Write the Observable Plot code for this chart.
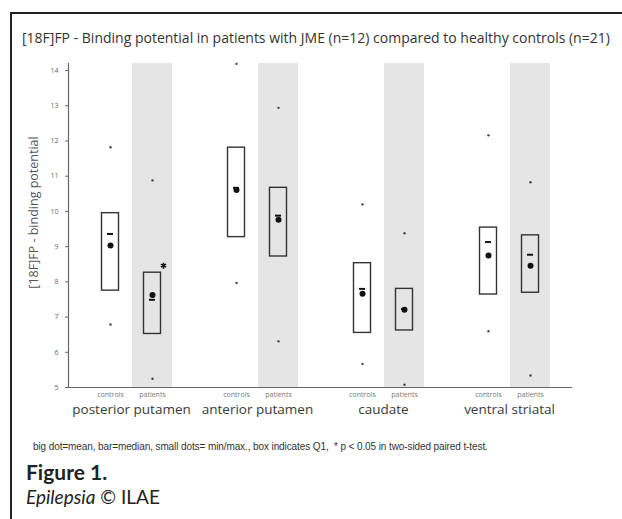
<!DOCTYPE html>
<html>
<head>
<meta charset="utf-8">
<script src="https://cdn.jsdelivr.net/npm/d3@7"></script>
<script src="https://cdn.jsdelivr.net/npm/@observablehq/plot@0.6"></script>
<style>
  html, body { margin: 0; padding: 0; background: #fff; width: 622px; height: 519px; overflow: hidden; }
  #wrap { position: relative; width: 622px; height: 519px; }
  #frame { position: absolute; left: 10px; top: 12px; width: 640px; height: 520px; border-left: 2px solid #222; border-top: 2px solid #222; }
  #title { position: absolute; left: 22px; top: 31px; font: 14px/1 "Open Sans", sans-serif; color: #333; white-space: nowrap; }
  #chart { position: absolute; left: 0; top: 0; }
  #note { position: absolute; left: 33px; top: 442px; font: 10px/1 "Liberation Sans", Arial, sans-serif; color: #333; white-space: nowrap; letter-spacing: -0.1px; }
  #fig { position: absolute; left: 26px; top: 461px; font: bold 21px/1 Lato, sans-serif; color: #222; }
  #journal { position: absolute; left: 26px; top: 487px; font: 19px/1 Lato, sans-serif; color: #222; }
</style>
</head>
<body>
<div id="wrap">
  <div id="frame"></div>
  <div id="title">[18F]FP - Binding potential in patients with JME (n=12) compared to healthy controls (n=21)</div>
  <div id="chart"></div>
  <div id="note">big dot=mean, bar=median, small dots= min/max., box indicates Q1, &nbsp;* p &lt; 0.05 in two-sided paired t-test.</div>
  <div id="fig">Figure 1.</div>
  <div id="journal"><i>Epilepsia</i> © ILAE</div>
</div>
<script>
// ---- data ----
const regions = ["posterior putamen", "anterior putamen", "caudate", "ventral striatal"];
const groups = ["controls", "patients"];
const yTicks = [5, 6, 7, 8, 9, 10, 11, 12, 13, 14];
const yLabel = "[18F]FP - binding potential";

const controlsMean   = [9.03, 10.61, 7.66, 8.75];
const controlsMedian = [9.36, 10.67, 7.80, 9.13];
const controlsBoxLo  = [7.75, 9.27, 6.55, 7.64];
const controlsBoxHi  = [9.95, 11.81, 8.53, 9.54];
const controlsMin    = [6.79, 7.97, 5.67, 6.60];
const controlsMax    = [11.82, 14.19, 10.20, 12.16];

const patientsMean   = [7.63, 9.76, 7.21, 8.46];
const patientsMedian = [7.49, 9.88, 7.23, 8.77];
const patientsBoxLo  = [6.52, 8.72, 6.62, 7.69];
const patientsBoxHi  = [8.26, 10.67, 7.80, 9.32];
const patientsMin    = [5.25, 6.31, 5.08, 5.34];
const patientsMax    = [10.88, 12.94, 9.38, 10.83];

const significant    = [true, false, false, false]; // "*" p < 0.05
const starValue      = [8.46, null, null, null];

// ---- build table ----
const key = (r, g) => r + "|" + g;
const rows = [];
regions.forEach((r, i) => {
  rows.push({region: r, group: "controls", k: key(r, "controls"), mean: controlsMean[i], median: controlsMedian[i], lo: controlsBoxLo[i], hi: controlsBoxHi[i], min: controlsMin[i], max: controlsMax[i]});
  rows.push({region: r, group: "patients", k: key(r, "patients"), mean: patientsMean[i], median: patientsMedian[i], lo: patientsBoxLo[i], hi: patientsBoxHi[i], min: patientsMin[i], max: patientsMax[i]});
});
const extremes = rows.flatMap(d => [{k: d.k, v: d.min}, {k: d.k, v: d.max}]);
const stars = regions.map((r, i) => ({k: key(r, "patients"), v: starValue[i], sig: significant[i]})).filter(d => d.sig);

// x domain: pairs of groups separated by an empty slot between regions
const domain = [];
regions.forEach((r, i) => {
  groups.forEach(g => domain.push(key(r, g)));
  if (i < regions.length - 1) domain.push("gap" + i);
});
const realKeys = domain.filter(d => d.includes("|"));
const patientKeys = regions.map(r => key(r, "patients"));

const plot = Plot.plot({
  width: 622,
  height: 430,
  marginTop: 63,
  marginBottom: 43,
  marginLeft: 68,
  marginRight: 50,
  style: {fontFamily: "Open Sans, sans-serif", background: "transparent", overflow: "visible"},
  x: {type: "band", domain, paddingInner: 0, paddingOuter: 0.5, axis: null},
  y: {domain: [5, 14.2], axis: null},
  marks: [
    Plot.barY(patientKeys, {x: d => d, y1: 5, y2: 14.2, fill: "#e5e5e5", insetLeft: 1, insetRight: 1}),
    Plot.ruleY([5], {stroke: "#666", strokeWidth: 1.2}),
    Plot.frame({anchor: "left", stroke: "#666", strokeWidth: 1.2}),
    Plot.axisY({ticks: yTicks, tickSize: 3, tickPadding: 7, fontSize: 7, color: "#666", label: null, tickFormat: d => d}),
    Plot.axisX({ticks: realKeys, tickSize: 0, tickPadding: 5, fontSize: 7, color: "#777", label: null, tickFormat: d => d.split("|")[1]}),
    Plot.text(regions, {x: r => key(r, "controls"), frameAnchor: "bottom", dx: 21, dy: 26, text: d => d, fontSize: 13.5, fill: "#3a3a3a"}),
    Plot.text([yLabel], {frameAnchor: "left", textAnchor: "middle", rotate: -90, dx: -35, dy: -13, text: d => d, fontSize: 12.5, fill: "#555"}),
    Plot.barY(rows, {x: "k", y1: "lo", y2: "hi", fill: "none", stroke: "#333", strokeWidth: 1.4, insetLeft: 12.5, insetRight: 12.5}),
    Plot.tickY(rows, {x: "k", y: "median", stroke: "#111", strokeWidth: 2, inset: 18}),
    Plot.dot(rows, {x: "k", y: "mean", r: 3, fill: "#111", stroke: "none"}),
    Plot.dot(extremes, {x: "k", y: "v", r: 1.2, fill: "#444", stroke: "none"}),
    Plot.dot(stars, {x: "k", y: "v", dx: 11, symbol: "asterisk", r: 2.8, stroke: "#111", strokeWidth: 1.6})
  ]
});
document.getElementById("chart").appendChild(plot);
</script>
</body>
</html>
